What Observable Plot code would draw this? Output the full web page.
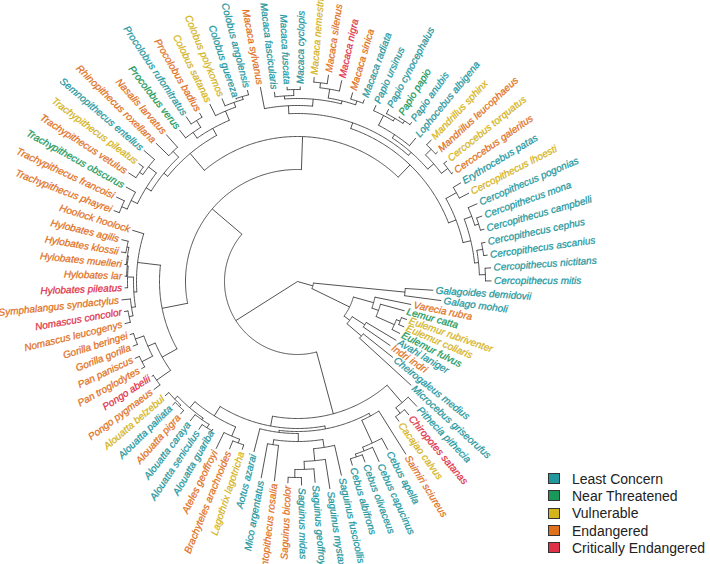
<!DOCTYPE html>
<html><head><meta charset="utf-8">
<script src="https://cdn.jsdelivr.net/npm/d3@7"></script>
<script src="https://cdn.jsdelivr.net/npm/@observablehq/plot@0.6"></script>
<style>
body{margin:0;background:#fff;}
#wrap{position:relative;width:710px;height:564px;}
#legend{position:absolute;left:548px;top:470px;font-family:"Liberation Sans",Arial,sans-serif;font-size:14px;color:#222;}
.row{display:flex;align-items:center;height:17.3px;}
.sw{width:12px;height:11px;border:1px solid #333;margin-right:12px;box-sizing:border-box;}
</style></head><body><div id="wrap"></div>
<script>
// Tree topology; the number after each ":" is the node's distance from the root.
const treeNewick = `(
((Galagoides_demidovii:136,Galago_moholi:145):108,
((Varecia_rubra:116,(Lemur_catta:111,((Eulemur_rubriventer:116,Eulemur_collaris:116):110,Eulemur_fulvus:115):106):86):79,
((Avahi_laniger:115,Indri_indri:113):80,(Cheirogaleus_medius:122,Microcebus_griseorufus:154):84):65):58):16,
(((Pithecia_pithecia:173,(Chiropotes_satanas:174,Cacajao_calvus:173):167):160,
(((Saimiri_sciureus:204,(Cebus_apella:191,(Cebus_capucinus:198,(Cebus_olivaceus:193,Cebus_albifrons:192):185):182):178):153,
(((Saguinus_fuscicollis:199,(Saguinus_mystax:210,(Saguinus_geoffroyi:202,(Saguinus_midas:204,Saguinus_bicolor:202):196):188):180):168,(Leontopithecus_rosalia:201,Mico_argentatus:200):165):160,Aotus_azarai:176):152):150,
(((Lagothrix_lagotricha:177,Brachyteles_arachnoides:181):172,Ateles_geoffroyi:186):168,
(((Alouatta_guariba:170,Alouatta_seniculus:178):172,Alouatta_caraya:176):168,((Alouatta_pigra:177,Alouatta_palliata:176):172,Alouatta_belzebul:175):170):166):158):147):137,
((((Pongo_pygmaeus:180,Pongo_abelii:174):172,((Pan_troglodytes:179,Pan_paniscus:180):175,(Gorilla_gorilla:177,Gorilla_beringei:176):172):163):155,
((((Nomascus_leucogenys:178,Nomascus_concolor:176):172,Symphalangus_syndactylus:177):168,(Hylobates_pileatus:173,(Hylobates_lar:173,(Hylobates_muelleri:174,(Hylobates_klossii:179,Hylobates_agilis:181):174):172):171):170):164,Hoolock_hoolock:173):161):138,
((((((Trachypithecus_phayrei:197,Trachypithecus_francoisi:200):191,Trachypithecus_obscurus:196):185,((Trachypithecus_vetulus:201,Trachypithecus_pileatus:198):192,Semnopithecus_entellus:202):188):178,(Rhinopithecus_roxellana:198,Nasalis_larvatus:197):180):172,
((Procolobus_verus:192,(Procolobus_rufomitratus:199,Procolobus_badius:195):190):182,(Colobus_satanas:198,(Colobus_polykomos:198,(Colobus_guereza:192,Colobus_angolensis:198):193):190):185):175):167,
(((Macaca_sylvanus:198,((Macaca_fascicularis:191,(Macaca_fuscata:195,Macaca_cyclopis:195):192):186,(((Macaca_nemestrina:205,Macaca_silenus:209):200,Macaca_nigra:206):195,(Macaca_sinica:197,Macaca_radiata:194):190):186):183):176,
(((Papio_ursinus:193,(Papio_cynocephalus:195,(Papio_papio:194,Papio_anubis:196):193):190):187,Lophocebus_albigena:186):176,((Mandrillus_sphinx:195,Mandrillus_leucophaeus:191):188,(Cercocebus_torquatus:192,Cercocebus_galeritus:190):188):180):172):168,
((Erythrocebus_patas:191,Cercopithecus_lhoesti:193):182,((Cercopithecus_pogonias:196,(Cercopithecus_mona:196,Cercopithecus_campbelli:194):190):186,((Cercopithecus_cephus:192,Cercopithecus_ascanius:192):188,(Cercopithecus_nictitans:194,Cercopithecus_mitis:194):188):182):178):170):162):145):112):73);`;

const species = ["Galagoides demidovii","Galago moholi","Varecia rubra","Lemur catta","Eulemur rubriventer","Eulemur collaris","Eulemur fulvus","Avahi laniger","Indri indri","Cheirogaleus medius","Microcebus griseorufus","Pithecia pithecia","Chiropotes satanas","Cacajao calvus","Saimiri sciureus","Cebus apella","Cebus capucinus","Cebus olivaceus","Cebus albifrons","Saguinus fuscicollis","Saguinus mystax","Saguinus geoffroyi","Saguinus midas","Saguinus bicolor","Leontopithecus rosalia","Mico argentatus","Aotus azarai","Lagothrix lagotricha","Brachyteles arachnoides","Ateles geoffroyi","Alouatta guariba","Alouatta seniculus","Alouatta caraya","Alouatta pigra","Alouatta palliata","Alouatta belzebul","Pongo pygmaeus","Pongo abelii","Pan troglodytes","Pan paniscus","Gorilla gorilla","Gorilla beringei","Nomascus leucogenys","Nomascus concolor","Symphalangus syndactylus","Hylobates pileatus","Hylobates lar","Hylobates muelleri","Hylobates klossii","Hylobates agilis","Hoolock hoolock","Trachypithecus phayrei","Trachypithecus francoisi","Trachypithecus obscurus","Trachypithecus vetulus","Trachypithecus pileatus","Semnopithecus entellus","Rhinopithecus roxellana","Nasalis larvatus","Procolobus verus","Procolobus rufomitratus","Procolobus badius","Colobus satanas","Colobus polykomos","Colobus guereza","Colobus angolensis","Macaca sylvanus","Macaca fascicularis","Macaca fuscata","Macaca cyclopis","Macaca nemestrina","Macaca silenus","Macaca nigra","Macaca sinica","Macaca radiata","Papio ursinus","Papio cynocephalus","Papio papio","Papio anubis","Lophocebus albigena","Mandrillus sphinx","Mandrillus leucophaeus","Cercocebus torquatus","Cercocebus galeritus","Erythrocebus patas","Cercopithecus lhoesti","Cercopithecus pogonias","Cercopithecus mona","Cercopithecus campbelli","Cercopithecus cephus","Cercopithecus ascanius","Cercopithecus nictitans","Cercopithecus mitis"];

const statusCode = ["LC","LC","EN","NT","VU","VU","NT","LC","EN","LC","LC","LC","CR","VU","EN","LC","LC","LC","LC","LC","LC","LC","LC","EN","EN","LC","LC","VU","EN","EN","LC","LC","LC","EN","LC","VU","EN","CR","EN","EN","EN","EN","EN","CR","EN","CR","EN","EN","EN","EN","EN","EN","EN","NT","EN","VU","LC","EN","EN","NT","LC","EN","VU","VU","LC","LC","EN","LC","LC","LC","VU","EN","CR","EN","LC","LC","LC","NT","LC","LC","VU","EN","VU","EN","LC","VU","LC","LC","LC","LC","LC","LC","LC"];

const statusCodes = ["LC","NT","VU","EN","CR"];
const statusLevels = ["Least Concern","Near Threatened","Vulnerable","Endangered","Critically Endangered"];
const statusColors = ["#23979e","#1a985a","#d5b31a","#df711d","#df3148"];

// ---- parse tree ----
function parseTree(s) {
  s = s.replace(/\s+/g, "");
  let i = 0;
  function node() {
    const n = {children: []};
    if (s[i] === "(") {
      i++;
      n.children.push(node());
      while (s[i] === ",") { i++; n.children.push(node()); }
      i++;
    }
    let name = "";
    while (i < s.length && !":,();".includes(s[i])) name += s[i++];
    n.name = name.replace(/_/g, " ");
    n.depth = 0;
    if (s[i] === ":") {
      i++;
      let num = "";
      while (i < s.length && !",();".includes(s[i])) num += s[i++];
      n.depth = +num;
    }
    return n;
  }
  return node();
}
const root = parseTree(treeNewick);

const nLeaves = species.length;
const step = 360 / nLeaves;
const offset = 3.7;
let leafIdx = 0;
function assign(n) {
  if (!n.children.length) { n.angle = offset + step * (leafIdx++); }
  else { n.children.forEach(assign); n.angle = d3.mean(n.children, c => c.angle); }
}
assign(root);

const rad = a => a * Math.PI / 180;
const segments = [], arcs = [], labels = [];
const statusOf = new Map(species.map((s, k) => [s, statusLevels[statusCodes.indexOf(statusCode[k])]]));
let arcId = 0;
function walk(n, parent) {
  const a = rad(n.angle);
  if (parent) {
    segments.push({x1: parent.depth * Math.cos(a), y1: parent.depth * Math.sin(a), x2: n.depth * Math.cos(a), y2: n.depth * Math.sin(a)});
  }
  if (n.children.length) {
    if (n.depth > 0) {
      const a0 = d3.min(n.children, c => c.angle), a1 = d3.max(n.children, c => c.angle);
      const k = Math.max(2, Math.ceil((a1 - a0) / 0.5));
      const id = arcId++;
      for (let j = 0; j <= k; j++) {
        const t = rad(a0 + (a1 - a0) * j / k);
        arcs.push({id, x: n.depth * Math.cos(t), y: n.depth * Math.sin(t)});
      }
    }
    n.children.forEach(c => walk(c, n));
  } else {
    const r = n.depth + 2.5;
    const right = Math.cos(a) >= 0;
    labels.push({name: n.name, status: statusOf.get(n.name), x: r * Math.cos(a), y: r * Math.sin(a), rot: right ? n.angle : n.angle - 180, right});
  }
}
walk(root, null);

const lineColor = "#262626";
const textOpts = {x: "x", y: "y", text: "name", rotate: "rot", fill: "status", stroke: "status", strokeWidth: 0.25, fontStyle: "italic", fontSize: 10, fontFamily: "Liberation Sans, Arial, sans-serif"};

const chart = Plot.plot({
  width: 710, height: 564, margin: 0,
  x: {domain: [-297, 413], range: [0, 710], axis: null},
  y: {domain: [-281, 283], range: [0, 564], axis: null},
  color: {domain: statusLevels, range: statusColors},
  style: {background: "white"},
  marks: [
    Plot.line(arcs, {x: "x", y: "y", z: "id", stroke: lineColor, strokeWidth: 0.8}),
    Plot.link(segments, {x1: "x1", y1: "y1", x2: "x2", y2: "y2", stroke: lineColor, strokeWidth: 0.8}),
    Plot.text(labels.filter(d => d.right), {...textOpts, textAnchor: "start"}),
    Plot.text(labels.filter(d => !d.right), {...textOpts, textAnchor: "end"})
  ]
});
const wrap = document.getElementById("wrap");
wrap.appendChild(chart);

const legend = document.createElement("div");
legend.id = "legend";
statusLevels.forEach((s, k) => {
  const row = document.createElement("div");
  row.className = "row";
  const sw = document.createElement("span");
  sw.className = "sw";
  sw.style.background = statusColors[k];
  const tx = document.createElement("span");
  tx.textContent = s;
  row.appendChild(sw); row.appendChild(tx);
  legend.appendChild(row);
});
wrap.appendChild(legend);
</script></body></html>
